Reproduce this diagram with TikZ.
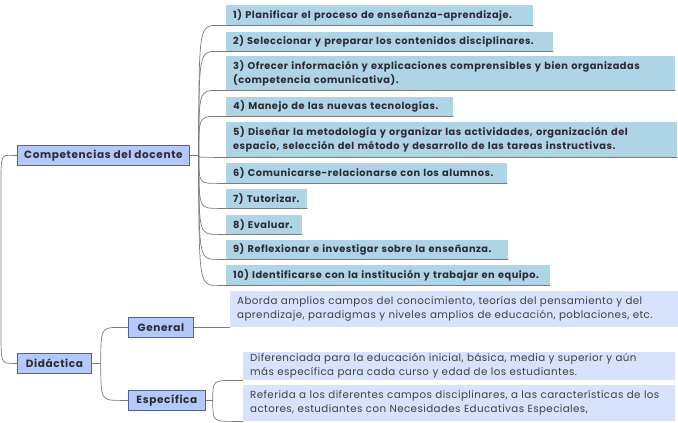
\documentclass[tikz,border=0pt]{standalone}
\usepackage{fontspec}
\setmainfont{Poppins}
\newfontfamily\topicfont{Poppins}[LetterSpace=6]
\newfontfamily\itemfont{Poppins}[LetterSpace=5]
\newfontfamily\leaffont{Poppins}[LetterSpace=4]
\usetikzlibrary{calc}
\definecolor{rootblue}{HTML}{B4C8FA}
\definecolor{rootline}{HTML}{4D6594}
\definecolor{itemblue}{HTML}{AED4E6}
\definecolor{leafblue}{HTML}{D8E2FC}
\definecolor{linkgrey}{HTML}{7A7A7A}
\definecolor{inkdark}{HTML}{2B2B33}
\tikzset{
  topic/.style={draw=rootline, fill=rootblue, line width=0.8pt, inner xsep=4pt, inner ysep=0pt,
    minimum height=20pt, anchor=north west, font=\topicfont\bfseries\fontsize{10.5}{13}\selectfont, text=inkdark},
  item/.style={fill=itemblue, inner xsep=7pt, inner ysep=0pt, anchor=north west, align=left,
    font=\itemfont\bfseries\fontsize{9.8}{14}\selectfont, text=inkdark},
  leaf/.style={fill=leafblue, inner xsep=7pt, inner ysep=0pt, anchor=north west, align=left,
    font=\leaffont\fontsize{10.3}{14}\selectfont, text=black!75},
  link/.style={draw=linkgrey, line width=0.7pt},
}
\begin{document}
\begin{tikzpicture}[x=1pt,y=-1pt]
    \path[use as bounding box, fill=white] (0,0) rectangle (678,423);

    %main topics
    \node[topic, minimum width=172pt] (comp) at (17,145) {Competencias del docente};
    \node[topic, minimum width=74pt] (did) at (17,353) {Didáctica};
    \node[topic, minimum width=65pt] (gen) at (128,317) {General};
    \node[topic, minimum width=77pt] (esp) at (128,390) {Específica};

    %the ten competences
    \node[item, text width=293pt, minimum height=20pt] (i1) at (226,5) {1) Planificar el proceso de enseñanza-aprendizaje.};
    \node[item, text width=313pt, minimum height=19pt] (i2) at (226,32) {2) Seleccionar y preparar los contenidos disciplinares.};
    \node[item, text width=435pt, minimum height=34pt] (i3) at (226,56) {3) Ofrecer información y explicaciones comprensibles y bien organizadas\\(competencia comunicativa).};
    \node[item, text width=213pt, minimum height=19pt] (i4) at (226,97) {4) Manejo de las nuevas tecnologías.};
    \node[item, text width=437pt, minimum height=35pt] (i5) at (226,122) {5) Diseñar la metodología y organizar las actividades, organización del\\espacio, selección del método y desarrollo de las tareas instructivas.};
    \node[item, text width=267pt, minimum height=20pt] (i6) at (226,163) {6) Comunicarse-relacionarse con los alumnos.};
    \node[item, text width=67pt, minimum height=19pt] (i7) at (226,189) {7) Tutorizar.};
    \node[item, text width=62pt, minimum height=19pt] (i8) at (226,215) {8) Evaluar.};
    \node[item, text width=268pt, minimum height=19pt] (i9) at (226,240) {9) Reflexionar e investigar sobre la enseñanza.};
    \node[item, text width=310pt, minimum height=20pt] (i10) at (226,265) {10) Identificarse con la institución y trabajar en equipo.};

    %didactica leaves
    \node[leaf, text width=434pt, minimum height=36pt] (g1) at (230,291) {Aborda amplios campos del conocimiento, teorías del pensamiento y del\\aprendizaje, paradigmas y niveles amplios de educación, poblaciones, etc.};
    \node[leaf, text width=418pt, minimum height=28pt] (e1) at (243,352) {Diferenciada para la educación inicial, básica, media y superior y aún\\más específica para cada curso y edad de los estudiantes.};
    \node[leaf, text width=418pt, minimum height=36pt] (e2) at (243,385) {Referida a los diferentes campos disciplinares, a las características de los\\actores, estudiantes con Necesidades Educativas Especiales,};

    %branch points
    \coordinate (cb) at ($(comp.east)+(9,0)$);
    \coordinate (db) at ($(did.east)+(9,0)$);
    \coordinate (eb) at ($(esp.east)+(7,0)$);

    %left bracket joining both topics
    \draw[link] (comp.west) -- ++(-5,0) .. controls (1,155) .. (1,185) -- (1,330)
        .. controls (1,363) .. ($(did.west)+(-5,0)$) -- (did.west);

    %fan to the competences
    \draw[link] (comp.east) -- (cb);
    \foreach \n in {i1,i2,i3,i4,i5,i6,i7,i8,i9,i10}
    {
        \draw[link] (cb) .. controls (cb |- \n.south west) .. ($(\n.south west)+(-8,0)$) -- (\n.south east);
    }

    %didactica branches
    \draw[link] (did.east) -- (db);
    \foreach \n in {gen,esp}
    {
        \draw[link] (db) .. controls (db |- \n.west) .. ($(\n.west)+(-7,0)$) -- (\n.west);
    }
    \draw[link] (gen.east) -- (g1.south west);
    \draw[link] (esp.east) -- (eb);
    \foreach \n in {e1,e2}
    {
        \draw[link] (eb) .. controls (eb |- \n.south west) .. ($(\n.south west)+(-9,0)$) -- (\n.south west);
    }
\end{tikzpicture}
\end{document}
